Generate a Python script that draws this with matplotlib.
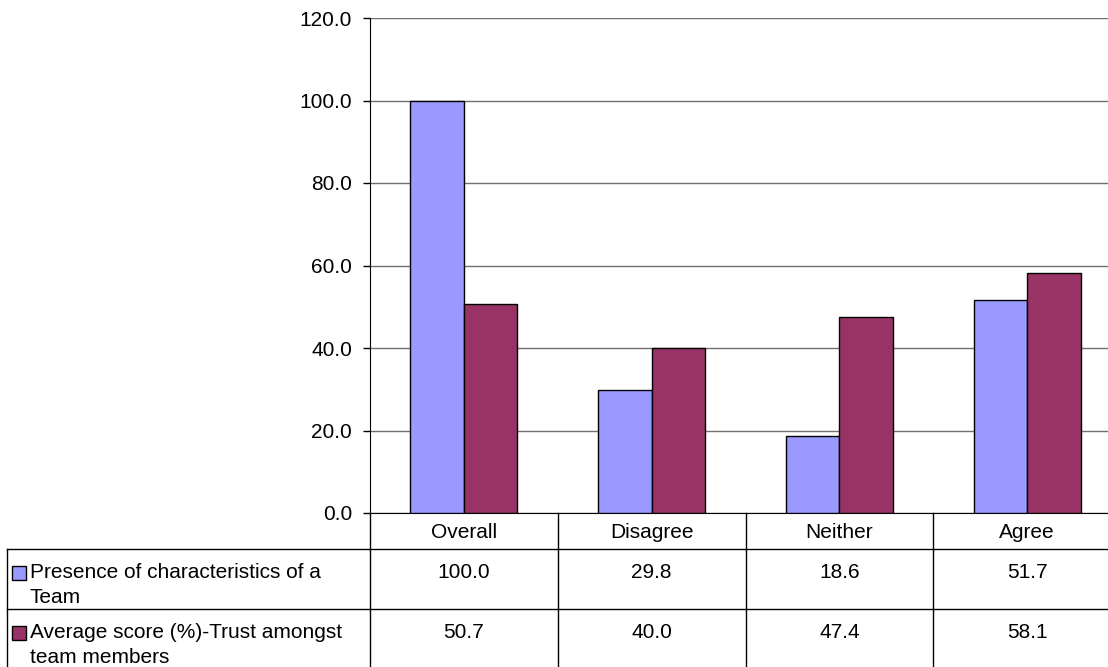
import matplotlib.pyplot as plt
import numpy as np

plt.rcParams['font.family'] = ['Liberation Sans', 'DejaVu Sans']

categories = ['Overall', 'Disagree', 'Neither', 'Agree']
presence = [100.0, 29.8, 18.6, 51.7]
trust = [50.7, 40.0, 47.4, 58.1]
series_names = ['Presence of characteristics of a\nTeam',
                'Average score (%)-Trust amongst\nteam members']
colors = ['#9999FF', '#993366']

W, H = 1108, 667
fs = 15
fig = plt.figure(figsize=(W / 100, H / 100), dpi=100)

# plot area in pixels
left, right, top, bottom = 370, 1121, 18, 513
ax = fig.add_axes([left / W, 1 - bottom / H, (right - left) / W, (bottom - top) / H])

x = np.arange(len(categories))
bw = 0.285
ax.bar(x - bw / 2, presence, bw, color=colors[0], edgecolor='black', linewidth=1, zorder=3)
ax.bar(x + bw / 2, trust, bw, color=colors[1], edgecolor='black', linewidth=1, zorder=3)

ax.set_xlim(-0.5, len(categories) - 0.5)
ax.set_ylim(0, 120)
ax.set_yticks(np.arange(0, 121, 20))
ax.set_yticklabels(['%.1f' % v for v in np.arange(0, 121, 20)], fontsize=fs)
ax.tick_params(axis='y', direction='out', length=5, width=1, pad=8, color='black')
ax.set_xticks([])
ax.yaxis.grid(True, color='#707070', linewidth=1, zorder=0)
for s in ['top', 'right']:
    ax.spines[s].set_visible(False)
ax.spines['left'].set_color('black')
ax.spines['bottom'].set_color('black')

# data table under the axis
tab = fig.add_axes([0, 0, 1, 1], facecolor='none')
tab.set_xlim(0, W)
tab.set_ylim(H, 0)
tab.axis('off')

colw = (right - left) / len(categories)
row_top = [549, 609]
lc = 'black'
tab.plot([7, right], [549, 549], color=lc, lw=1)
tab.plot([7, right], [609, 609], color=lc, lw=1)
tab.plot([7, 7], [549, H], color=lc, lw=1)
for i in range(len(categories)):
    xb = left + i * colw
    tab.plot([xb, xb], [bottom, H], color=lc, lw=1)
    tab.text(xb + colw / 2, 538, categories[i], ha='center', va='baseline', fontsize=fs)
    tab.text(xb + colw / 2, 578, '%.1f' % presence[i], ha='center', va='baseline', fontsize=fs)
    tab.text(xb + colw / 2, 638, '%.1f' % trust[i], ha='center', va='baseline', fontsize=fs)

for j, (name, c) in enumerate(zip(series_names, colors)):
    y0 = row_top[j]
    tab.add_patch(plt.Rectangle((12, y0 + 17), 14, 14, facecolor=c, edgecolor='black', lw=1))
    for k, line in enumerate(name.split('\n')):
        tab.text(30, y0 + 29 + 25 * k, line, ha='left', va='baseline', fontsize=fs)

fig.savefig('out.png', dpi=100)
